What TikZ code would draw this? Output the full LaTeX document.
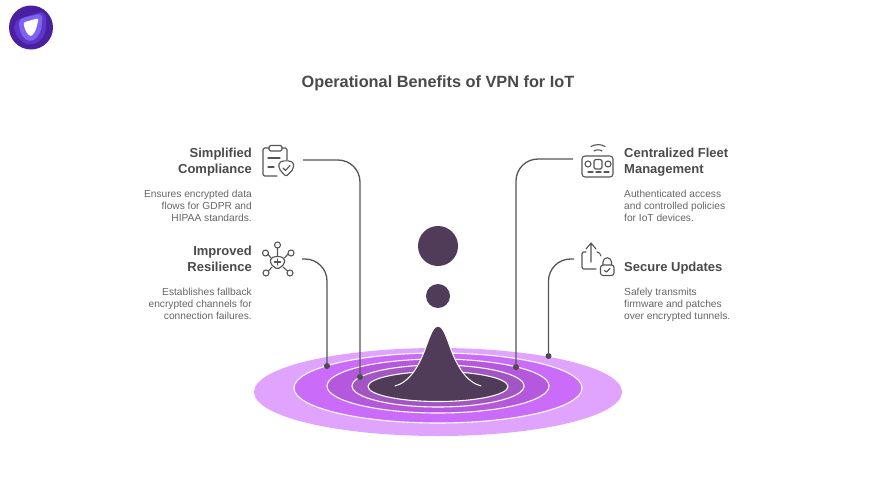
\documentclass[tikz,border=0pt]{standalone}
\usepackage{fontspec}
\setmainfont{Liberation Sans}
\usetikzlibrary{calc,positioning,arrows.meta}
\definecolor{inkgray}{HTML}{4A4A4A}
\definecolor{textgray}{HTML}{666666}
\definecolor{linegray}{HTML}{555555}
\definecolor{plumdark}{HTML}{503C58}
\definecolor{ringa}{HTML}{E0A4FF}
\definecolor{ringb}{HTML}{CB6BFA}
\definecolor{ringc}{HTML}{B558DE}
\definecolor{ringd}{HTML}{A355C4}
\definecolor{logoa}{HTML}{4A1FA0}
\definecolor{logob}{HTML}{5E35C8}
\definecolor{logoc}{HTML}{7E62F2}
\tikzset{
headtext/.style={text=inkgray,font=\fontsize{13}{16}\selectfont\bfseries,inner sep=0pt},
desctext/.style={text=textgray,font=\fontsize{10.2}{12.3}\selectfont,inner sep=0pt},
connector/.style={draw=linegray,line width=1.3pt,rounded corners=22pt},
enddot/.style={circle,fill=inkgray,inner sep=0pt,minimum size=6pt},
ring/.style={draw=white,line width=1.1pt},
iconline/.style={draw=linegray,line width=1.1pt,line cap=round,line join=round,rounded corners=1.5pt}
}
\begin{document}
\begin{tikzpicture}[x=1pt,y=-1pt]
\useasboundingbox (0,0) rectangle (876,493);
\fill[white] (0,0) rectangle (876,493);
% logo
\fill[logoa] (31,27.5) circle (22);
\fill[logob,rounded corners=8pt] (13,21) -- (46,10) -- (46,36) -- (31,47) -- (16,38) -- cycle;
\fill[logoc,rounded corners=6pt] (18,19) -- (43,13) -- (41,33) -- (31,43) -- (21,36) -- cycle;
\fill[white,rounded corners=2.5pt] (23,22.5) -- (39,18) -- (35.5,31) -- (31,37) -- (26,32) -- cycle;
\node[text=inkgray,font=\fontsize{16.3}{20}\selectfont\bfseries,inner sep=0pt] (title) at (438,83.5) {Operational Benefits of VPN for IoT};
% ripples
\fill[ringa] (438,392) ellipse (184 and 44);
\filldraw[fill=ringb,ring] (438,388) ellipse (144 and 35);
\filldraw[fill=ringc,ring] (438,386) ellipse (111 and 27);
\filldraw[fill=ringd,ring] (438,386) ellipse (86 and 21);
\filldraw[fill=plumdark,ring] (438,386.5) ellipse (70 and 15);
\fill[plumdark] (395,386) .. controls (410,382) and (420,365) .. (427,344) .. controls (431,333) and (434,326) .. (438,326) .. controls (442,326) and (445,333) .. (449,344) .. controls (456,365) and (466,382) .. (481,386) -- cycle;
\draw[white,line width=1pt,line cap=round] (395,386) .. controls (410,382) and (420,365) .. (427,344) .. controls (431,333) and (434,326) .. (438,326) .. controls (442,326) and (445,333) .. (449,344) .. controls (456,365) and (466,382) .. (481,386);
\node[circle,fill=plumdark,minimum size=40pt,inner sep=0pt] (bigdrop) at (438,246) {};
\node[circle,fill=plumdark,minimum size=24pt,inner sep=0pt] (smalldrop) at (438,296) {};
% left texts
\node[headtext,anchor=north east,align=right] (simplified) at (252,148) {Simplified\\Compliance};
\node[desctext,anchor=north east,align=right] (simplifieddesc) at (252,189.5) {Ensures encrypted data\\flows for GDPR and\\HIPAA standards.};
\node[headtext,anchor=north east,align=right] (improved) at (252,246) {Improved\\Resilience};
\node[desctext,anchor=north east,align=right] (improveddesc) at (252,287.5) {Establishes fallback\\encrypted channels for\\connection failures.};
% right texts
\node[headtext,anchor=north west,align=left] (central) at (624,148) {Centralized Fleet\\Management};
\node[desctext,anchor=north west,align=left] (centraldesc) at (624,189.5) {Authenticated access\\and controlled policies\\for IoT devices.};
\node[headtext,anchor=north west] (secure) at (624,262) {Secure Updates};
\node[desctext,anchor=north west,align=left] (securedesc) at (624,287.5) {Safely transmits\\firmware and patches\\over encrypted tunnels.};
% connectors
\coordinate (simplifiedout) at (303,160);
\coordinate (improvedout) at (302,259);
\coordinate (centralout) at (573,159);
\coordinate (secureout) at (574,259);
\node[enddot] (simplifieddot) at (360,377) {};
\node[enddot] (improveddot) at (327,366) {};
\node[enddot] (centraldot) at (516,367) {};
\node[enddot] (securedot) at (548.5,356) {};
\draw[connector] (simplifiedout) -| (simplifieddot.center);
\draw[connector] (improvedout) -| (improveddot.center);
\draw[connector] (centralout) -| (centraldot.center);
\draw[connector] (secureout) -| (securedot.center);
% clipboard icon
\draw[iconline] (269,148) -- (263,148) -- (263,176) -- (277,176);
\draw[iconline] (282,148) -- (287,148) -- (287,160);
\draw[iconline] (269,145.5) rectangle (282,151);
\draw[iconline] (268,158) -- (280,158) (268,167) -- (274,167);
\draw[iconline,rounded corners=2pt] (279,162) -- (286,160.5) -- (293.5,162) -- (293.5,169) -- (286,176.5) -- (279,169) -- cycle;
\draw[iconline,rounded corners=0pt] (283,168) -- (285.5,170.5) -- (290,165.5);
% resilience icon
\draw[iconline,rounded corners=2pt] (270.5,258) -- (277.5,256) -- (284.5,258) -- (284.5,264) -- (277.5,269.5) -- (270.5,264) -- cycle;
\draw[iconline] (274.5,262) -- (280.5,262) (277.5,259) -- (277.5,265);
\draw[iconline] (277.5,248) -- (277.5,256) (268,254) -- (271,258) (288,254) -- (284.5,258) (268.5,271) -- (272,267) (287.5,271) -- (283,267);
\foreach \px/\py in {277.5/245,265.5/253,291/253,266/273,290/273}
  \draw[iconline] (\px,\py) circle (3);
% fleet icon
\draw[iconline,rounded corners=3pt] (582,156) rectangle (613,177);
\draw[iconline] (588,164) circle (3) (608,164) circle (3);
\draw[iconline] (594,159.5) rectangle (602,169);
\draw[iconline] (588,172) -- (593,172) (596,172) -- (601,172) (604,172) -- (609,172);
\draw[iconline] (591,146.5) .. controls (595,144) and (601,144) .. (605,146.5);
\draw[iconline] (594,151) .. controls (596,149.5) and (600,149.5) .. (602,151);
% update icon
\draw[iconline,rounded corners=0pt] (591,262) -- (591,243) (586,249) -- (591,243) -- (596,249);
\draw[iconline] (586,252) -- (582,252) -- (582,269) -- (596,269);
\draw[iconline] (597,252) -- (599,252) -- (601,256);
\draw[iconline,rounded corners=2.5pt] (600.5,265) rectangle (614,275.5);
\draw[iconline,rounded corners=0pt] (603,265) -- (603,262) arc (180:360:4.25) -- (611.5,265);
\draw[iconline,rounded corners=0pt] (604.5,270.5) -- (606.5,272) -- (610,268.5);
\end{tikzpicture}
\end{document}
